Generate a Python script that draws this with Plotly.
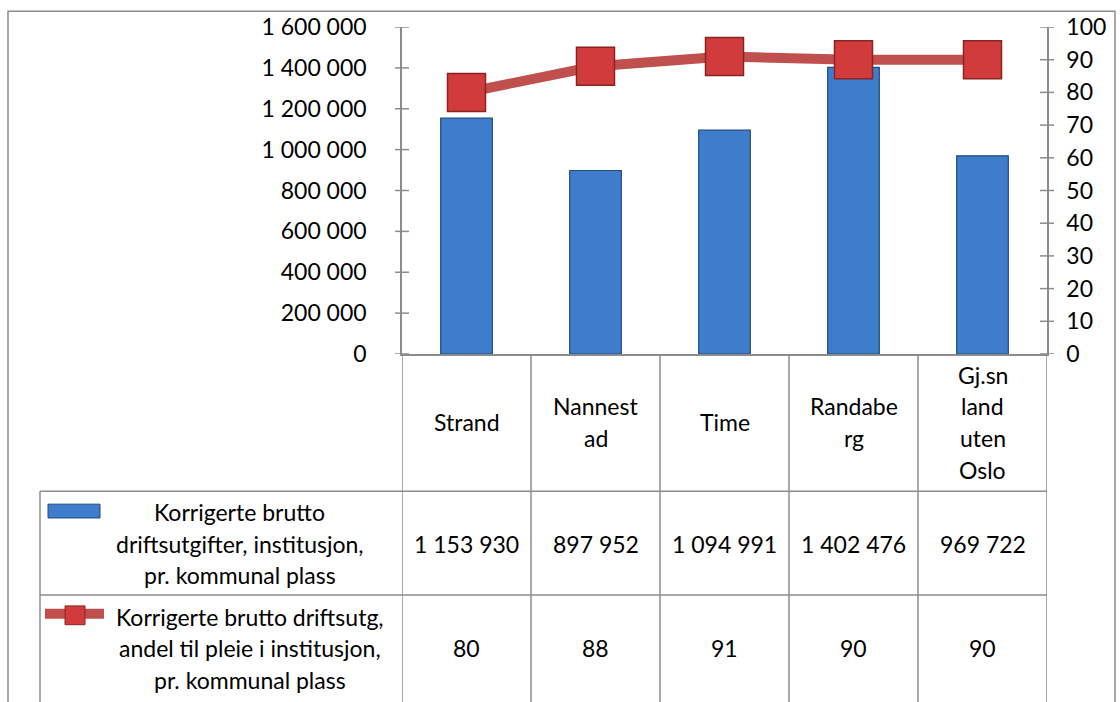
import plotly.graph_objects as go

# ---- data ----
categories = ["Strand", "Nannestad", "Time", "Randaberg", "Gj.sn land uten Oslo"]
category_lines = [["Strand"], ["Nannest", "ad"], ["Time"], ["Randabe", "rg"], ["Gj.sn", "land", "uten", "Oslo"]]
cost_values = [1153930, 897952, 1094991, 1402476, 969722]
share_values = [80, 88, 91, 90, 90]
series1_lines = ["Korrigerte brutto", "driftsutgifter, institusjon,", "pr. kommunal plass"]
series2_lines = ["Korrigerte brutto driftsutg,", "andel til pleie i institusjon,", "pr. kommunal plass"]
left_ticks = list(range(0, 1600001, 200000))
right_ticks = list(range(0, 101, 10))

# ---- layout geometry (pixels) ----
W, H = 1120, 702
L, R, T, B = 402, 1047, 23, 354
FONT = "Lato"
FS = 23
GRID = "#8c8c8c"


def px(x):
    return (x - L) / (R - L)


def py(y):
    return (B - y) / (B - T)


def fmt(v):
    return f"{v:,}".replace(",", " ")


xs = list(range(len(categories)))

fig = go.Figure()
fig.add_trace(go.Bar(
    x=xs, y=cost_values, name=" ".join(series1_lines),
    marker=dict(color="#3d7dcc", line=dict(color="#1f4a7f", width=1.2)),
    yaxis="y",
))
fig.add_trace(go.Scatter(
    x=xs, y=share_values, name=" ".join(series2_lines), mode="lines+markers",
    line=dict(color="#c0504d", width=10),
    marker=dict(symbol="square", size=38, color="#d23b3b", line=dict(color="#8b2323", width=1.5)),
    yaxis="y2",
))

shapes = []
# cross tick marks
for v in left_ticks:
    shapes.append(dict(type="line", xref="paper", yref="y", x0=px(L - 7), x1=px(L + 7), y0=v, y1=v,
                       line=dict(color=GRID, width=1.5)))
for v in right_ticks:
    shapes.append(dict(type="line", xref="paper", yref="y2", x0=px(R - 7), x1=px(R + 7), y0=v, y1=v,
                       line=dict(color=GRID, width=1.5)))
# table vertical lines
for i in range(len(categories) + 1):
    shapes.append(dict(type="line", xref="x", yref="paper", x0=i - 0.5, x1=i - 0.5, y0=py(B), y1=py(H + 5),
                       line=dict(color=GRID, width=1.5)))
# table horizontal lines
for yy in (493, 598):
    shapes.append(dict(type="line", xref="paper", yref="paper", x0=px(40), x1=1, y0=py(yy), y1=py(yy),
                       line=dict(color=GRID, width=1.5)))
shapes.append(dict(type="line", xref="paper", yref="paper", x0=px(40), x1=px(40), y0=py(493), y1=py(H + 5),
                   line=dict(color=GRID, width=1.5)))
# outer chart border
shapes.append(dict(type="rect", xref="paper", yref="paper", x0=px(8), x1=px(1115), y0=py(7), y1=py(H + 10),
                   line=dict(color=GRID, width=1.5)))
# legend keys
shapes.append(dict(type="rect", xref="paper", yref="paper", x0=px(48), x1=px(100), y0=py(506), y1=py(520),
                   fillcolor="#3d7dcc", line=dict(color="#1f4a7f", width=1)))
shapes.append(dict(type="line", xref="paper", yref="paper", x0=px(45), x1=px(104), y0=py(617), y1=py(617),
                   line=dict(color="#c0504d", width=10)))
shapes.append(dict(type="rect", xref="paper", yref="paper", x0=px(65), x1=px(85), y0=py(609), y1=py(628),
                   fillcolor="#d23b3b", line=dict(color="#8b2323", width=1)))

annotations = []


def add_lines(lines, x, xref, yc, spacing=32):
    n = len(lines)
    for k, t in enumerate(lines):
        yy = yc + (k - (n - 1) / 2) * spacing
        annotations.append(dict(text=t, x=x, xref=xref, y=py(yy), yref="paper", showarrow=False,
                                xanchor="center", yanchor="middle", font=dict(family=FONT, size=FS, color="black")))


for i, lines in enumerate(category_lines):
    add_lines(lines, i, "x", 423)
for i, v in enumerate(cost_values):
    add_lines([fmt(v)], i, "x", 546)
for i, v in enumerate(share_values):
    add_lines([str(v)], i, "x", 652)
add_lines(series1_lines, px(240), "paper", 546)
add_lines(series2_lines, px(250), "paper", 652)

fig.update_layout(
    width=W, height=H,
    margin=dict(l=L, r=W - R, t=T, b=H - B, pad=0),
    plot_bgcolor="white", paper_bgcolor="white",
    showlegend=False, bargap=0.6,
    separators=", ",
    font=dict(family=FONT, size=FS, color="black"),
    xaxis=dict(range=[-0.5, len(categories) - 0.5], showticklabels=False, ticks="", showgrid=False,
               showline=True, linecolor=GRID, linewidth=1.5, zeroline=False, fixedrange=True),
    yaxis=dict(range=[0, 1600000], tickvals=left_ticks, tickformat=",", showgrid=False, zeroline=False,
               showline=True, linecolor=GRID, linewidth=1.5, ticks="", ticklabelstandoff=29,
               tickfont=dict(family=FONT, size=FS)),
    yaxis2=dict(range=[0, 100], tickvals=right_ticks, overlaying="y", side="right", showgrid=False,
                zeroline=False, showline=True, linecolor=GRID, linewidth=1.5, ticks="",
                ticklabelstandoff=13, tickfont=dict(family=FONT, size=FS)),
    shapes=shapes, annotations=annotations,
)

fig.write_html("out.html", config={"displayModeBar": False},
               post_script="document.body.style.margin='0px';document.body.style.overflow='hidden';")
